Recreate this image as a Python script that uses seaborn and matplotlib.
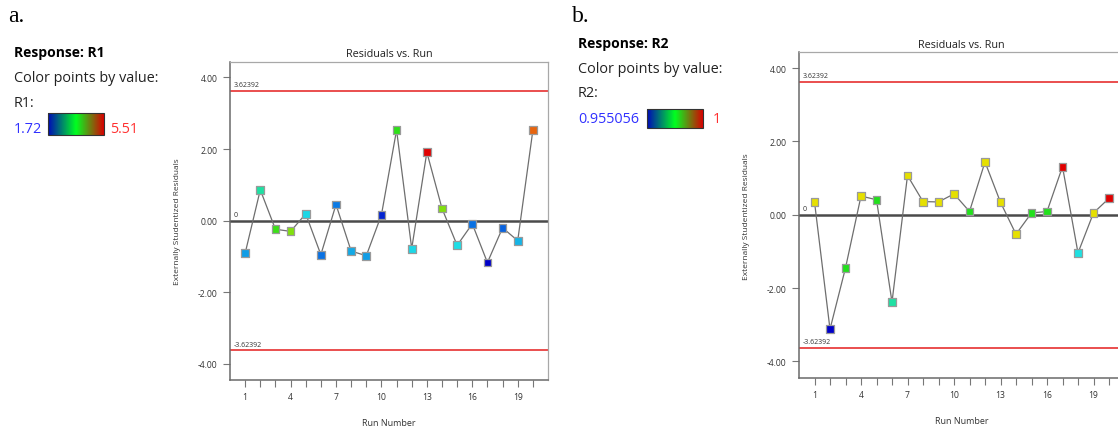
import numpy as np
import pandas as pd
import matplotlib
matplotlib.use("Agg")
import matplotlib.pyplot as plt
import matplotlib as mpl
from matplotlib.colors import LinearSegmentedColormap, Normalize
import seaborn as sns

# ---------------- data ----------------
runs = list(range(1, 21))

# Panel a: externally studentized residuals and the R1 response (colour value)
resid_r1 = [-0.91, 0.86, -0.24, -0.30, 0.19, -0.95, 0.45, -0.85, -0.98, 0.16,
            2.53, -0.78, 1.91, 0.34, -0.69, -0.09, -1.17, -0.20, -0.56, 2.52]
value_r1 = [2.55, 3.20, 3.69, 3.92, 2.93, 2.29, 2.33, 2.63, 2.55, 1.91,
            3.65, 2.93, 5.51, 3.92, 2.97, 2.29, 1.72, 2.21, 2.71, 4.94]
range_r1 = (1.72, 5.51)
range_r1_labels = ("1.72", "5.51")

# Panel b
resid_r2 = [0.35, -3.12, -1.45, 0.51, 0.41, -2.38, 1.07, 0.36, 0.35, 0.57,
            0.09, 1.44, 0.34, -0.53, 0.05, 0.09, 1.31, -1.04, 0.05, 0.45]
value_r2 = [0.9850, 0.955056, 0.9775, 0.9850, 0.9775, 0.9726, 0.9850, 0.9850, 0.9850, 0.9850,
            0.9775, 0.9850, 0.9850, 0.9850, 0.9775, 0.9775, 1.0, 0.9703, 0.9850, 1.0]
range_r2 = (0.955056, 1.0)
range_r2_labels = ("0.955056", "1")

limit = 3.62392
limit_labels = ("3.62392", "-3.62392")
yticks = [-4, -2, 0, 2, 4]
xtick_labels_at = [1, 4, 7, 10, 13, 16, 19]

# ---------------- style ----------------
sns.set_theme(style="white")
plt.rcParams['font.family'] = ['Open Sans', 'DejaVu Sans']

point_cmap = LinearSegmentedColormap.from_list(
    "pts", ["#0000c8", "#0a7ee6", "#1ee0e6", "#22e01a", "#e6e000", "#e87010", "#e00000"])
bar_cmap = LinearSegmentedColormap.from_list(
    "bar", ["#0008b8", "#00ff20", "#d80000"])

fig = plt.figure(figsize=(11.18, 4.27), dpi=100)
W, H = 1118.0, 427.0


def panel(rect, resid, values, vrange):
    ax = fig.add_axes(rect)
    df = pd.DataFrame({"run": runs, "resid": resid, "value": values})
    sns.lineplot(data=df, x="run", y="resid", ax=ax, color="#6e6e6e", lw=0.9,
                 zorder=3, legend=False)
    sns.scatterplot(data=df, x="run", y="resid", hue="value", palette=point_cmap,
                    hue_norm=Normalize(*vrange), marker="s", s=32,
                    edgecolor="#9a9a9a", linewidth=0.9, ax=ax, zorder=4, legend=False)
    ax.axhline(0, color="#4a4a4a", lw=1.8, zorder=2)
    ax.axhline(limit, color="#e84040", lw=1.3, zorder=2)
    ax.axhline(-limit, color="#e84040", lw=1.3, zorder=2)
    ax.text(0.25, limit + 0.08, limit_labels[0], fontsize=5, color="#333333", va="bottom")
    ax.text(0.25, -limit + 0.08, limit_labels[1], fontsize=5, color="#333333", va="bottom")
    ax.text(0.25, 0.08, "0", fontsize=5, color="#333333", va="bottom")
    ax.set_xlim(0, 21)
    ax.set_ylim(-4.45, 4.43)
    ax.set_yticks(yticks)
    ax.set_yticklabels([f"{v:.2f}" for v in yticks])
    ax.set_xticks(runs)
    ax.set_xticklabels([str(r) if r in xtick_labels_at else "" for r in runs])
    ax.tick_params(axis="both", direction="out", length=5, width=0.8, color="#777777",
                   labelsize=6.2, labelcolor="#333333", pad=4, left=True, bottom=True)
    for s in ["top", "right"]:
        ax.spines[s].set_color("#a8a8a8")
        ax.spines[s].set_linewidth(0.9)
    for s in ["left", "bottom"]:
        ax.spines[s].set_color("#6a6a6a")
        ax.spines[s].set_linewidth(1.1)
    ax.set_xlabel("Run Number", fontsize=6.5, color="#333333", labelpad=12)
    ax.set_ylabel("Externally Studentized Residuals", fontsize=6, color="#333333", labelpad=12)
    ax.set_title("Residuals vs. Run", fontsize=7.8, color="#222222", pad=4)
    return ax


panel([230 / W, 1 - 381 / H, 318 / W, 318 / H], resid_r1, value_r1, range_r1)
panel([799 / W, 1 - 379 / H, 325.5 / W, 325.7 / H], resid_r2, value_r2, range_r2)


def header(x0, y_letter, letter, resp, ys, lo_lab, hi_lab, bar_x, bar_w, bar_y, bar_h, hi_x):
    fig.text(x0 / W, 1 - y_letter / H, letter, fontsize=17, family="Liberation Serif",
             color="black", va="baseline")
    fig.text((x0 + 6) / W, 1 - ys[0] / H, f"Response: {resp}", fontsize=10,
             fontweight="bold", color="black", va="baseline")
    fig.text((x0 + 6) / W, 1 - ys[1] / H, "Color points by value:", fontsize=10.4,
             color="#222222", va="baseline")
    fig.text((x0 + 6) / W, 1 - ys[2] / H, f"{resp}:", fontsize=10.4,
             color="#222222", va="baseline")
    fig.text((x0 + 6) / W, 1 - ys[3] / H, lo_lab, fontsize=10.4, color="#3030ff",
             va="baseline")
    cax = fig.add_axes([bar_x / W, 1 - (bar_y + bar_h) / H, bar_w / W, bar_h / H])
    cb = mpl.colorbar.ColorbarBase(cax, cmap=bar_cmap, orientation="horizontal")
    cb.set_ticks([])
    cb.outline.set_edgecolor("#333333")
    cb.outline.set_linewidth(0.8)
    fig.text(hi_x / W, 1 - ys[3] / H, hi_lab, fontsize=10.4, color="#ff3030", va="baseline")


header(8, 22, "a.", "R1", [57, 82, 107, 133], range_r1_labels[0], range_r1_labels[1],
       48, 56, 114, 22, 110)
header(572, 22, "b.", "R2", [48, 73, 97, 123], range_r2_labels[0], range_r2_labels[1],
       647, 56, 110, 19, 713)

fig.savefig("out.png", dpi=100)
